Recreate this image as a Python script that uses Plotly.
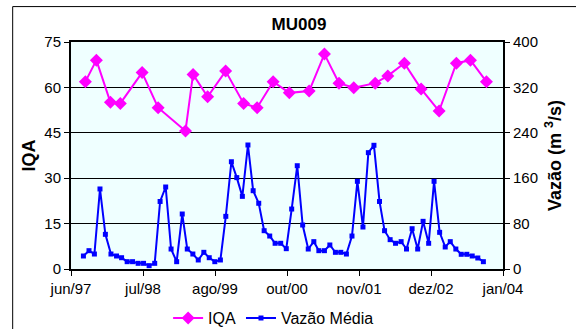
import plotly.graph_objects as go

# IQA (left axis)
iqa_dates = ["1997-09-08", "1997-11-08", "1998-01-25", "1998-03-21", "1998-07-20",
             "1998-10-17", "1999-03-18", "1999-04-29", "1999-07-19", "1999-10-27",
             "2000-02-04", "2000-04-19", "2000-07-17", "2000-10-15", "2001-02-02",
             "2001-04-28", "2001-07-18", "2001-10-08", "2002-02-04", "2002-04-15",
             "2002-07-16", "2002-10-17", "2003-01-25", "2003-05-01", "2003-07-18",
             "2003-10-15"]
iqa_values = [61.9, 69.0, 55.1, 54.7, 64.9, 53.3, 45.6, 64.3, 56.9, 65.4,
              54.7, 53.3, 61.9, 58.2, 58.8, 71.0, 61.4, 59.9, 61.4, 63.8,
              68.0, 59.5, 52.2, 68.0, 69.0, 61.9]

# Vazão Média (right axis), monthly
vazao_dates = [
    "1997-08-28", "1997-09-28", "1997-10-28", "1997-11-28", "1997-12-28",
    "1998-01-28", "1998-02-28", "1998-03-28", "1998-04-28", "1998-05-28", "1998-06-28",
    "1998-07-28", "1998-08-28", "1998-09-28", "1998-10-28", "1998-11-28", "1998-12-28",
    "1999-01-28", "1999-02-28", "1999-03-28", "1999-04-28", "1999-05-28", "1999-06-28",
    "1999-07-28", "1999-08-28", "1999-09-28", "1999-10-28", "1999-11-28", "1999-12-28",
    "2000-01-28", "2000-02-28", "2000-03-28", "2000-04-28", "2000-05-28", "2000-06-28",
    "2000-07-28", "2000-08-28", "2000-09-28", "2000-10-28", "2000-11-28", "2000-12-28",
    "2001-01-28", "2001-02-28", "2001-03-28", "2001-04-28", "2001-05-28", "2001-06-28",
    "2001-07-28", "2001-08-28", "2001-09-28", "2001-10-28", "2001-11-28", "2001-12-28",
    "2002-01-28", "2002-02-28", "2002-03-28", "2002-04-28", "2002-05-28", "2002-06-28",
    "2002-07-28", "2002-08-28", "2002-09-28", "2002-10-28", "2002-11-28", "2002-12-28",
    "2003-01-28", "2003-02-28", "2003-03-28", "2003-04-28", "2003-05-28", "2003-06-28",
    "2003-07-28", "2003-08-28", "2003-09-28"]
vazao_values = [
    22.9, 32.3, 26.4, 141, 61.1,
    26.4, 22.9, 19.9, 12.9, 12.9, 10, 10, 5.9, 10, 119, 144.5, 35.2,
    12.9, 96.9, 35.2, 26.4, 15.9, 29.4, 19.9, 12.9, 15.9, 92.8, 189, 161,
    128, 218.5, 138, 115.8, 67.5, 58.1, 45.3, 45.3, 35.8, 105.7, 182, 77.5,
    35.2, 48.2, 32.3, 32.3, 42.3, 29.4, 29.4, 26.4, 58.1, 154.5, 74, 205,
    218, 119, 67.5, 51.7, 45.3, 48.2, 35.2, 71, 35.2, 84, 45.3, 154.5,
    64.6, 38.8, 48.2, 35.2, 25.9, 25.9, 22.9, 19.4, 12.9]

x_tick_vals = ["1997-06-20", "1998-07-25", "1999-08-29", "2000-10-02",
               "2001-11-06", "2002-12-11", "2004-01-15"]
x_tick_text = ["jun/97", "jul/98", "ago/99", "out/00", "nov/01", "dez/02", "jan/04"]
y_left_ticks = [0, 15, 30, 45, 60, 75]
y_right_ticks = [0, 80, 160, 240, 320, 400]

FONT = "Liberation Sans, Arial, sans-serif"

fig = go.Figure()
fig.add_trace(go.Scatter(
    x=iqa_dates, y=iqa_values, name="IQA", mode="lines+markers",
    line=dict(color="#FF00FF", width=2),
    marker=dict(symbol="diamond", size=10, color="#FF00FF"),
    yaxis="y"))
fig.add_trace(go.Scatter(
    x=vazao_dates, y=vazao_values, name="Vazão Média", mode="lines+markers",
    line=dict(color="#0000FF", width=2),
    marker=dict(symbol="square", size=5, color="#0000FF"),
    yaxis="y2"))

fig.update_layout(
    width=576, height=329,
    margin=dict(l=71, r=73, t=42, b=60, autoexpand=False),
    paper_bgcolor="white",
    plot_bgcolor="#EFFFFF",
    font=dict(family=FONT, size=15, color="black"),
    title=dict(text="<b>MU009</b>", x=0.519, xref="container", xanchor="center",
               y=0.927, yref="container", yanchor="middle",
               font=dict(size=17, family=FONT)),
    showlegend=True,
    legend=dict(orientation="h", x=0.475, xref="container", xanchor="center",
                y=0.033, yref="container", yanchor="middle",
                font=dict(size=16), bgcolor="rgba(0,0,0,0)",
                itemwidth=30, tracegroupgap=0),
    xaxis=dict(
        type="date", range=["1997-06-20", "2004-01-15"], automargin=False,
        tickvals=x_tick_vals, ticktext=x_tick_text,
        ticks="outside", ticklen=5, tickcolor="black", tickwidth=1,
        showline=True, linecolor="black", linewidth=2, mirror=True,
        showgrid=False, zeroline=False),
    yaxis=dict(
        range=[0, 75], tickvals=y_left_ticks, automargin=False,
        ticks="outside", ticklen=5, tickcolor="black", tickwidth=1,
        showline=True, linecolor="black", linewidth=2, mirror=True,
        showgrid=True, gridcolor="black", gridwidth=1, zeroline=False,
        title=dict(text="<b>IQA</b>", font=dict(size=18), standoff=4)),
    yaxis2=dict(
        range=[0, 400], tickvals=y_right_ticks, overlaying="y", side="right",
        automargin=False,
        ticks="outside", ticklen=5, tickcolor="black", tickwidth=1,
        showline=True, linecolor="black", linewidth=2,
        showgrid=False, zeroline=False,
        title=dict(text="<b>Vazão (m <sup>3</sup>/s)</b>", font=dict(size=18), standoff=11)),
    shapes=[dict(type="rect", xref="paper", yref="paper",
                 x0=-0.135, x1=1.4, y0=-0.4, y1=1.156,
                 line=dict(color="black", width=1), fillcolor="rgba(0,0,0,0)",
                 layer="below")],
)

fig.write_html("out.html", config={"displayModeBar": False},
               post_script="document.body.style.margin='0';document.body.style.overflow='hidden';")
